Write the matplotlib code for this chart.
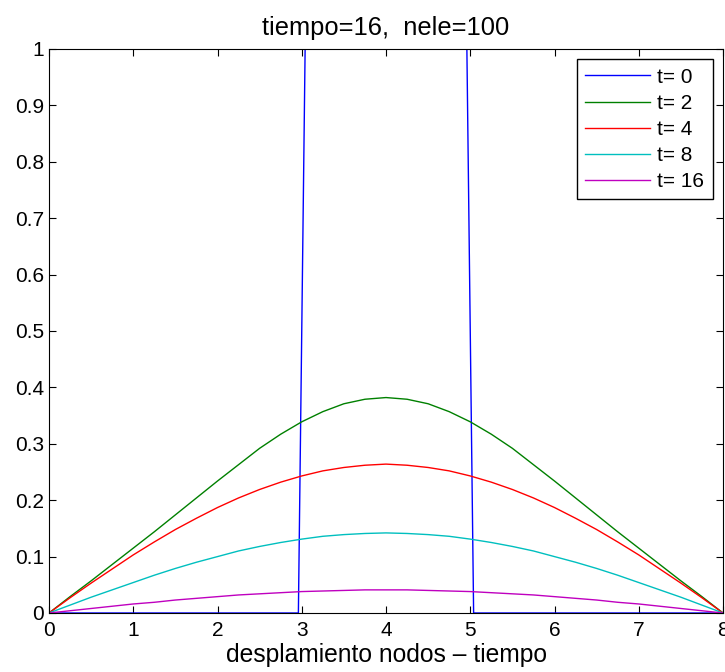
import matplotlib.pyplot as plt

plt.rcParams['font.family'] = ['Liberation Sans', 'DejaVu Sans']

# t = 0: initial rectangular pulse
x0 = [0, 2.96, 3.04, 4.96, 5.04, 8]
u0 = [0, 0, 1, 1, 0, 0]

# later times, every 0.25
xs = [0, 0.25, 0.5, 0.75, 1, 1.25, 1.5, 1.75, 2, 2.25, 2.5, 2.75, 3, 3.25, 3.5, 3.75,
      4, 4.25, 4.5, 4.75, 5, 5.25, 5.5, 5.75, 6, 6.25, 6.5, 6.75, 7, 7.25, 7.5, 7.75, 8]
u2 = [0, .029, .057, .086, .115, .144, .174, .204, .234, .263, .292, .317, .339, .357, .371, .379,
      .382, .379, .371, .357, .339, .317, .292, .263, .234, .204, .174, .144, .115, .086, .057, .029, 0]
u4 = [0, .027, .053, .078, .103, .126, .148, .168, .187, .204, .219, .232, .243, .252, .258, .262,
      .264, .262, .258, .252, .243, .232, .219, .204, .187, .168, .148, .126, .103, .078, .053, .027, 0]
u8 = [0, .014, .028, .041, .054, .067, .079, .090, .100, .110, .118, .125, .131, .136, .139, .141,
      .142, .141, .139, .136, .131, .125, .118, .110, .100, .090, .079, .067, .054, .041, .028, .014, 0]
u16 = [0, .004, .008, .012, .016, .019, .023, .026, .029, .032, .034, .036, .038, .039, .040, .041,
       .041, .041, .040, .039, .038, .036, .034, .032, .029, .026, .023, .019, .016, .012, .008, .004, 0]

labels = ['t= 0', 't= 2', 't= 4', 't= 8', 't= 16']
colors = [(0, 0, 1), (0, 0.5, 0), (1, 0, 0), (0, 0.75, 0.75), (0.75, 0, 0.75)]

fig = plt.figure(figsize=(7.25, 6.72), dpi=100)
ax = fig.add_axes([49 / 725, 59 / 672, 674 / 725, 564 / 672])

ax.plot(x0, u0, color=colors[0], lw=1, label=labels[0])
for u, lab, c in zip([u2, u4, u8, u16], labels[1:], colors[1:]):
    ax.plot(xs, u, color=c, lw=1, label=lab)

ax.set_xlim(0, 8)
ax.set_ylim(0, 1)
ax.set_xticks(range(0, 9))
ax.set_yticks([i / 10 for i in range(11)])
ax.set_yticklabels(['0', '0.1', '0.2', '0.3', '0.4', '0.5', '0.6', '0.7', '0.8', '0.9', '1'])
ax.tick_params(direction='in', top=True, right=True, labelsize=15, length=5)
ax.tick_params(axis='x', pad=6)
ax.set_title('tiempo=16,  nele=100', fontsize=18.4, pad=10)
ax.set_xlabel('desplamiento nodos \u2013 tiempo', fontsize=17.7, labelpad=2)

leg = ax.legend(loc='upper right', fontsize=15, fancybox=False, framealpha=1,
                edgecolor='black', handlelength=3.1, handletextpad=0.35,
                labelspacing=0.34, borderpad=0.4, borderaxespad=0.5)
leg.get_frame().set_linewidth(1)

fig.savefig('out.png', dpi=100)
